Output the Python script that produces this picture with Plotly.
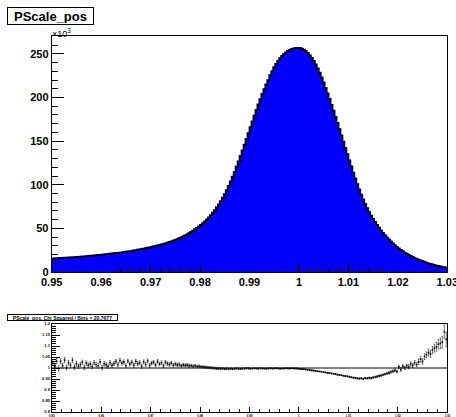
import plotly.graph_objects as go

# PScale_pos: 200 bins of width 0.0004 on [0.95, 1.03]; counts in units of 10^3
x_low = 0.95
x_high = 1.03
n_bins = 200

counts_k = [
    15.6, 15.7, 15.9, 16.0, 16.1, 16.3, 16.4, 16.5, 16.7, 16.8,
    17.0, 17.1, 17.3, 17.4, 17.6, 17.8, 18.0, 18.2, 18.4, 18.6,
    18.8, 19.0, 19.2, 19.5, 19.7, 19.9, 20.2, 20.4, 20.7, 20.9,
    21.2, 21.5, 21.8, 22.0, 22.3, 22.6, 22.9, 23.2, 23.6, 23.9,
    24.3, 24.7, 25.1, 25.5, 25.9, 26.4, 26.8, 27.3, 27.8, 28.3,
    28.8, 29.3, 29.9, 30.4, 31.0, 31.6, 32.3, 32.9, 33.6, 34.4,
    35.2, 36.0, 36.8, 37.7, 38.7, 39.7, 40.8, 42.0, 43.2, 44.6,
    46.0, 47.5, 49.0, 50.6, 52.3, 54.1, 56.0, 58.1, 60.3, 62.7,
    65.3, 68.0, 71.0, 74.2, 77.6, 81.2, 85.1, 89.3, 93.8, 98.7,
    103.8, 109.2, 114.8, 120.7, 126.8, 133.0, 139.4, 145.9, 152.5, 159.2,
    165.9, 172.6, 179.2, 185.7, 192.0, 198.1, 204.0, 209.6, 214.9, 219.9,
    225.5, 230.3, 234.7, 238.6, 242.1, 245.1, 247.7, 249.9, 251.8, 253.4,
    254.7, 255.7, 256.4, 256.9, 257.0, 256.8, 256.1, 254.9, 253.2, 251.0,
    248.4, 245.4, 241.9, 237.9, 233.4, 228.4, 223.0, 217.2, 211.1, 204.8,
    198.3, 191.6, 184.8, 177.9, 170.9, 163.8, 156.6, 149.4, 142.2, 135.0,
    127.9, 120.9, 114.0, 107.3, 100.8, 94.6, 88.7, 83.2, 78.0, 73.2,
    68.8, 64.7, 60.9, 57.3, 53.9, 50.7, 47.7, 44.9, 42.2, 39.7,
    37.3, 35.0, 32.8, 30.8, 28.9, 27.1, 25.4, 23.8, 22.3, 20.9,
    19.6, 18.4, 17.2, 16.1, 15.1, 14.1, 13.2, 12.3, 11.5, 10.7,
    10.0, 9.3, 8.6, 8.0, 7.4, 6.9, 6.4, 5.9, 5.5, 5.1,
]

# Ratio per bin and its uncertainty
ratio = [
    1.027, 1.005, 1.032, 0.998, 1.030, 1.010, 1.036, 1.002, 1.024, 1.012,
    1.035, 1.004, 1.020, 1.008, 1.016, 1.026, 1.003, 1.022, 1.012, 1.018,
    1.007, 1.024, 1.015, 1.010, 1.028, 1.002, 1.019, 1.014, 1.008, 1.024,
    1.012, 1.020, 1.030, 1.016, 1.034, 1.022, 1.028, 1.010, 1.032, 1.018,
    1.026, 1.012, 1.030, 1.020, 1.024, 1.008, 1.028, 1.016, 1.032, 1.012,
    1.022, 1.026, 1.014, 1.030, 1.018, 1.024, 1.010, 1.026, 1.020, 1.016,
    1.022, 1.012, 1.018, 1.014, 1.016, 1.010, 1.014, 1.012, 1.013, 1.010,
    1.011, 1.008, 1.010, 1.007, 1.008, 1.006, 1.005, 1.004, 1.003, 1.002,
    1.001, 1.000, 0.999, 0.998, 0.998, 0.997, 0.998, 0.996, 0.997, 0.996,
    0.997, 0.996, 0.997, 0.998, 0.997, 0.996, 0.998, 0.997, 0.999, 0.998,
    0.997, 0.998, 0.999, 0.998, 0.997, 0.999, 0.998, 0.998, 0.997, 0.998,
    0.999, 0.998, 0.998, 0.999, 0.998, 0.997, 0.998, 0.998, 0.999, 0.998,
    0.998, 0.999, 0.998, 0.998, 0.997, 0.996, 0.995, 0.994, 0.993, 0.992,
    0.991, 0.989, 0.988, 0.987, 0.985, 0.984, 0.983, 0.981, 0.980, 0.978,
    0.977, 0.975, 0.974, 0.972, 0.970, 0.968, 0.967, 0.965, 0.963, 0.962,
    0.960, 0.958, 0.956, 0.955, 0.953, 0.952, 0.953, 0.951, 0.954, 0.953,
    0.955, 0.954, 0.957, 0.959, 0.961, 0.964, 0.966, 0.969, 0.972, 0.975,
    0.978, 0.982, 0.985, 0.989, 0.984, 1.005, 0.993, 1.008, 1.001, 1.010,
    1.006, 1.018, 1.012, 1.024, 1.016, 1.028, 1.040, 1.030, 1.052, 1.060,
    1.070, 1.064, 1.082, 1.090, 1.096, 1.108, 1.112, 1.118, 1.165, 1.130,
]

ratio_err = [
    0.012, 0.012, 0.012, 0.012, 0.012, 0.011, 0.011, 0.011, 0.011, 0.011,
    0.011, 0.011, 0.011, 0.010, 0.010, 0.010, 0.010, 0.010, 0.010, 0.010,
    0.010, 0.010, 0.010, 0.010, 0.010, 0.010, 0.010, 0.010, 0.010, 0.010,
    0.009, 0.009, 0.009, 0.009, 0.009, 0.009, 0.009, 0.009, 0.009, 0.009,
    0.009, 0.009, 0.009, 0.009, 0.009, 0.009, 0.009, 0.009, 0.009, 0.009,
    0.008, 0.008, 0.008, 0.008, 0.008, 0.008, 0.008, 0.008, 0.008, 0.008,
    0.008, 0.008, 0.008, 0.008, 0.008, 0.007, 0.007, 0.007, 0.007, 0.007,
    0.006, 0.006, 0.006, 0.006, 0.006, 0.005, 0.005, 0.005, 0.005, 0.005,
    0.005, 0.005, 0.005, 0.005, 0.005, 0.004, 0.004, 0.004, 0.004, 0.004,
    0.003, 0.003, 0.003, 0.003, 0.003, 0.003, 0.003, 0.003, 0.003, 0.003,
    0.002, 0.002, 0.002, 0.002, 0.002, 0.002, 0.002, 0.002, 0.002, 0.002,
    0.002, 0.002, 0.002, 0.002, 0.002, 0.002, 0.002, 0.002, 0.002, 0.002,
    0.002, 0.002, 0.002, 0.002, 0.002, 0.002, 0.002, 0.002, 0.002, 0.002,
    0.002, 0.002, 0.002, 0.002, 0.002, 0.002, 0.002, 0.002, 0.002, 0.002,
    0.002, 0.002, 0.002, 0.002, 0.002, 0.002, 0.002, 0.002, 0.002, 0.002,
    0.003, 0.003, 0.003, 0.003, 0.003, 0.003, 0.003, 0.003, 0.003, 0.003,
    0.004, 0.004, 0.004, 0.004, 0.004, 0.004, 0.004, 0.004, 0.004, 0.004,
    0.006, 0.006, 0.006, 0.006, 0.006, 0.008, 0.008, 0.008, 0.008, 0.008,
    0.010, 0.010, 0.010, 0.010, 0.010, 0.013, 0.013, 0.013, 0.013, 0.013,
    0.015, 0.016, 0.017, 0.018, 0.020, 0.022, 0.024, 0.026, 0.030, 0.032,
]

x_tick_vals = [0.95, 0.96, 0.97, 0.98, 0.99, 1.00, 1.01, 1.02, 1.03]
x_tick_text = ["0.95", "0.96", "0.97", "0.98", "0.99", "1", "1.01", "1.02", "1.03"]
y_tick_vals = [0, 50, 100, 150, 200, 250]
y_tick_text = ["0", "50", "100", "150", "200", "250"]
r_tick_vals = [0.8, 0.85, 0.9, 0.95, 1.0, 1.05, 1.1, 1.15, 1.2]
r_tick_text = ["0.8", "0.85", "0.9", "0.95", "1", "1.05", "1.1", "1.15", "1.2"]

title_main = "PScale_pos"
title_ratio = "PScale_pos, Chi Squared / Bins = 20.7677"

W, H = 456, 417
bw = (x_high - x_low) / n_bins
edges = [x_low + i * bw for i in range(n_bins + 1)]
centers = [x_low + (i + 0.5) * bw for i in range(n_bins)]

FONT = "Liberation Sans, Arial, sans-serif"

fig = go.Figure()

# filled step histogram with black outline
fig.add_trace(go.Scatter(
    x=edges, y=counts_k + [counts_k[-1]],
    mode="lines", line=dict(shape="hv", color="black", width=1.8),
    fill="tozeroy", fillcolor="#0000ff",
    xaxis="x", yaxis="y", hoverinfo="skip", showlegend=False,
))

# ratio points with error bars
fig.add_trace(go.Scatter(
    x=centers, y=ratio,
    mode="markers",
    marker=dict(color="black", size=1.6, symbol="square"),
    error_y=dict(type="data", array=ratio_err, color="#222222", thickness=0.6, width=0.8),
    xaxis="x2", yaxis="y2", showlegend=False,
))

xdom = [51.7 / W, 447.3 / W]


def px_to_paper_y(py):
    return 1 - py / H


def axis_common():
    return dict(
        showline=True, linecolor="black", linewidth=1, mirror=True,
        showgrid=False, zeroline=False, automargin=False,
        ticklabeloverflow="allow",
        tickwidth=1, tickcolor="black",
    )


fig.update_layout(
    width=W, height=H,
    margin=dict(l=0, r=0, t=0, b=0, autoexpand=False),
    paper_bgcolor="white", plot_bgcolor="white",
    font=dict(family=FONT, color="black"),
    xaxis=dict(
        domain=xdom, range=[x_low, x_high], anchor="y",
        tickvals=x_tick_vals, ticktext=x_tick_text,
        ticks="inside", ticklen=8,
        minor=dict(ticks="inside", ticklen=4, dtick=0.002, tick0=0.95, tickcolor="black"),
        tickfont=dict(size=11, family=FONT, weight="bold"),
        **axis_common(),
    ),
    yaxis=dict(
        domain=[px_to_paper_y(272), px_to_paper_y(36)], range=[0, 270.5], anchor="x",
        tickvals=y_tick_vals, ticktext=y_tick_text,
        ticks="inside", ticklen=12,
        minor=dict(ticks="inside", ticklen=6, dtick=10, tick0=0, tickcolor="black"),
        tickfont=dict(size=11, family=FONT, weight="bold"),
        **axis_common(),
    ),
    xaxis2=dict(
        domain=xdom, range=[x_low, x_high], anchor="y2",
        tickvals=x_tick_vals, ticktext=x_tick_text,
        ticks="inside", ticklen=5,
        minor=dict(ticks="inside", ticklen=3, dtick=0.002, tick0=0.95, tickcolor="black"),
        tickfont=dict(size=3, family=FONT, weight="bold"),
        **axis_common(),
    ),
    yaxis2=dict(
        domain=[px_to_paper_y(412), px_to_paper_y(324)], range=[0.8, 1.2], anchor="x2",
        tickvals=r_tick_vals, ticktext=r_tick_text,
        ticks="inside", ticklen=8,
        minor=dict(ticks="inside", ticklen=4, dtick=0.01, tick0=0.8, tickcolor="black"),
        tickfont=dict(size=4, family=FONT, weight="bold"),
        **axis_common(),
    ),
    shapes=[
        dict(type="line", xref="x2", yref="y2", x0=x_low, x1=x_high, y0=1, y1=1,
             line=dict(color="black", width=1)),
    ],
    annotations=[
        dict(text=title_main, xref="paper", yref="paper",
             x=6.5 / W, y=px_to_paper_y(7), xanchor="left", yanchor="top",
             showarrow=False, font=dict(size=13, family=FONT, weight="bold"),
             bordercolor="black", borderwidth=1, borderpad=1, bgcolor="white",
             width=83, height=14),
        dict(text="×10<sup>3</sup>", xref="paper", yref="paper",
             x=50 / W, y=px_to_paper_y(25), xanchor="left", yanchor="top",
             showarrow=False, font=dict(size=9, family=FONT)),
        dict(text=title_ratio, xref="paper", yref="paper",
             x=6.5 / W, y=px_to_paper_y(314), xanchor="left", yanchor="top",
             showarrow=False, font=dict(size=5, family=FONT, weight="bold"),
             bordercolor="black", borderwidth=1, borderpad=0, bgcolor="white",
             width=109, height=5),
    ],
)

fig.write_html("out.html")
